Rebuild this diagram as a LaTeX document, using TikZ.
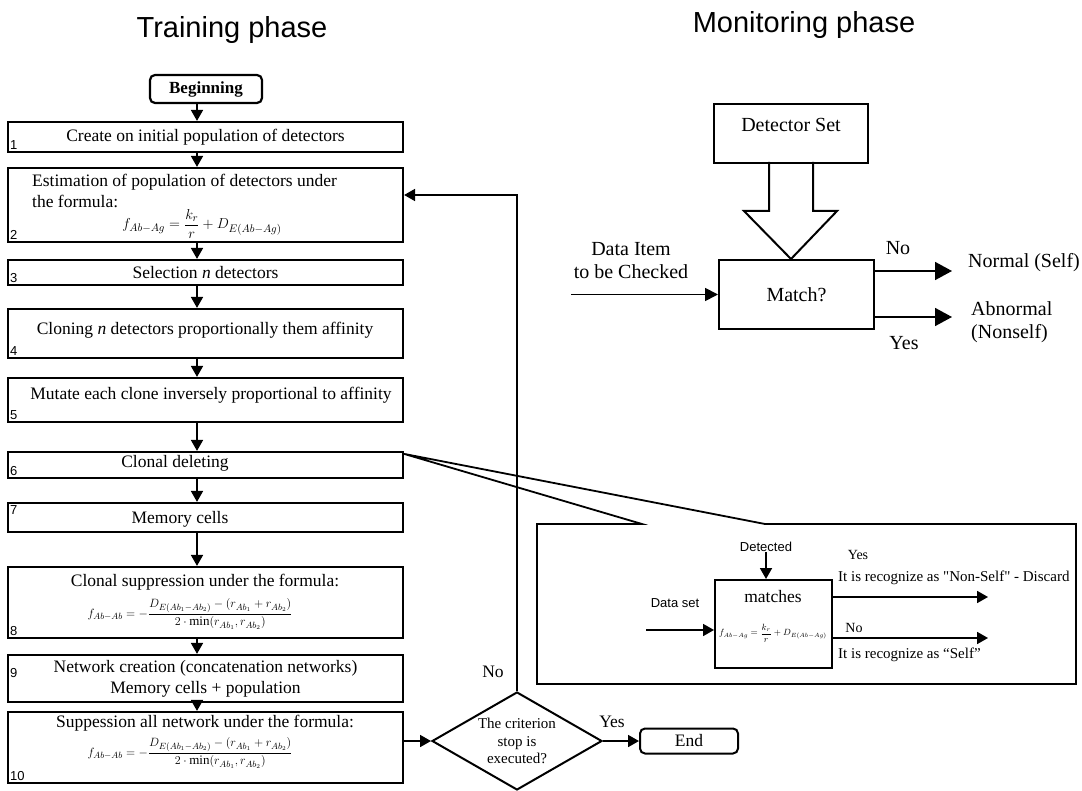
\documentclass[tikz,border=0pt]{standalone}
\usepackage{amsmath,amssymb}
\usepackage{fontspec}
\setmainfont{Liberation Serif}
\setsansfont{Liberation Sans}
\usetikzlibrary{arrows.meta,shapes.geometric,calc}
\newcommand{\dquote}{\XeTeXglyph\XeTeXglyphindex "quotedbl"\relax}

\begin{document}
\begin{tikzpicture}[x=1pt,y=-1pt]
		\tikzstyle{every node}=[inner sep=0pt, font=\fontsize{17.5}{21}\selectfont]
		\tikzstyle{stepbox}=[draw, line width=2.2pt, minimum width=395pt]
		\tikzstyle{num}=[anchor=south west, inner sep=3pt, font=\sffamily\fontsize{13}{13}\selectfont]
		\tikzstyle{flow}=[line width=1.8pt, -{Triangle[length=11pt,width=12pt]}]
		\tikzstyle{bigflow}=[line width=1.8pt, -{Triangle[length=17pt,width=18pt]}]
		\tikzstyle{formula}=[font=\fontsize{13}{15}\selectfont]
		\tikzstyle{mon}=[font=\fontsize{20}{23}\selectfont]
		\useasboundingbox (0,0) rectangle (1082,791);
		
		% Training phase
		\node[anchor=base, font=\sffamily\fontsize{29}{29}\selectfont] (ttl1) at (232,38) {Training phase};
		\node[draw, rounded corners=5pt, line width=2.2pt, minimum width=112pt, minimum height=28pt, font=\bfseries\fontsize{17}{17}\selectfont] (beg) at (206,89) {Beginning};
		
		\node[stepbox, minimum height=30pt] (b1) at (205.5,137) {Create on initial population of detectors};
		\node[stepbox, minimum height=74pt] (b2) at (205.5,205) {};
		\node[anchor=west, align=left] (t2) at (32,191) {Estimation of population of detectors under\\the formula:};
		\node[font=\fontsize{15.5}{17}\selectfont] (f2) at (202,224) {$f_{Ab-Ag}=\dfrac{k_r}{r}+D_{E(Ab-Ag)}$};
		\node[stepbox, minimum height=25pt] (b3) at (205.5,272.5) {Selection \textit{n} detectors};
		\node[stepbox, minimum height=49pt] (b4) at (205.5,333.5) {};
		\node (t4) at (205,330) {Cloning \textit{n} detectors proportionally them affinity};
		\node[stepbox, minimum height=44pt] (b5) at (205.5,400) {};
		\node (t5) at (211,395) {Mutate each clone inversely proportional to affinity};
		\node[stepbox, minimum height=26pt] (b6) at (205.5,465) {};
		\node (t6) at (175,463) {Clonal deleting};
		\node[stepbox, minimum height=29pt] (b7) at (205.5,517.5) {};
		\node (t7) at (180,519) {Memory cells};
		\node[stepbox, minimum height=71pt] (b8) at (205.5,602.5) {};
		\node (t8) at (205,582) {Clonal suppression under the formula:};
		\node[formula] (f8) at (190,614) {$f_{Ab-Ab}=-\dfrac{D_{E(Ab_1-Ab_2)}-(r_{Ab_1}+r_{Ab_2})}{2\cdot\min(r_{Ab_1},r_{Ab_2})}$};
		\node[stepbox, minimum height=47pt, align=center] (b9) at (205.5,678.5) {Network creation (concatenation networks)\\Memory cells + population};
		\node[stepbox, minimum height=71pt] (b10) at (205.5,747.5) {};
		\node (t10) at (205,723) {Suppession all network under the formula:};
		\node[formula] (f10) at (190,753) {$f_{Ab-Ab}=-\dfrac{D_{E(Ab_1-Ab_2)}-(r_{Ab_1}+r_{Ab_2})}{2\cdot\min(r_{Ab_1},r_{Ab_2})}$};
		
		% numbers
		\node[num] at (b1.south west) {1};
		\node[num] at (b2.south west) {2};
		\node[num] at (b3.south west) {3};
		\node[num] at (b4.south west) {4};
		\node[num] at (b5.south west) {5};
		\node[num] at (b6.south west) {6};
		\node[num, anchor=north west] at (b7.north west) {7};
		\node[num] at (b8.south west) {8};
		\node[num, anchor=west] at ([yshift=5pt]b9.west) {9};
		\node[num] at (b10.south west) {10};
		
		%Arrows
		\draw[flow] ([xshift=-9pt]beg.south) -- ([xshift=-8.5pt]b1.north);
		\foreach \a/\b in {b1/b2, b2/b3, b3/b4, b4/b5, b5/b6, b6/b7, b7/b8, b8/b9, b9/b10}
			\draw[flow] ([xshift=-8.5pt]\a.south) -- ([xshift=-8.5pt]\b.north);
		
		% Criterion
		\node[diamond, draw, line width=2pt, aspect=1.73, minimum width=170pt, minimum height=98pt, align=center, font=\fontsize{15}{17.5}\selectfont] (crit) at (517,741) {The criterion\\stop is\\executed?};
		\node[draw, rounded corners=5pt, line width=2pt, minimum width=98pt, minimum height=25pt] (end) at (689,741) {End};
		\draw[flow] (b10.east |- crit.west) -- (crit.west);
		\draw[flow] (crit.east) -- (end.west);
		\draw[flow] (crit.north) |- ([yshift=10pt]b2.east);
		\node (no1) at (493,672) {No};
		\node (yes1) at (612,722) {Yes};
		
		% Callout
		\coordinate (apex) at ([yshift=-3pt]b6.north east);
		\draw[line width=1.8pt, line join=miter] (537,524) -- (642,524) -- (apex) -- (765,524) -- (1076,524) -- (1076,684) -- (537,684) -- cycle;
		\node[draw, line width=2pt, minimum width=117pt, minimum height=88pt] (mt) at (773.5,624) {};
		\node (mtt) at (773,597) {matches};
		\node[font=\fontsize{9}{10}\selectfont] (mtf) at (773,633) {$f_{Ab-Ag}=\dfrac{k_r}{r}+D_{E(Ab-Ag)}$};
		\node[font=\sffamily\fontsize{13}{13}\selectfont] (det) at (766,547) {Detected};
		\draw[flow] (det.south) -- (det.south |- mt.north);
		\node[font=\sffamily\fontsize{13}{13}\selectfont] (dset) at (675,603) {Data set};
		\coordinate (din) at (646,630);
		\draw[flow] (din) -- (din -| mt.west);
		\coordinate (ns) at (988,597);
		\coordinate (sf) at (988,638);
		\draw[flow] (mt.east |- ns) -- (ns);
		\draw[flow] (mt.east |- sf) -- (sf);
		\node[font=\fontsize{14}{14}\selectfont] (yes2) at (858,555) {Yes};
		\node[anchor=west, font=\fontsize{15}{15}\selectfont] (nsl) at (838,578) {It is recognize as \dquote Non-Self\dquote{} - Discard};
		\node[font=\fontsize{14}{14}\selectfont] (no2) at (854,628) {No};
		\node[anchor=west, font=\fontsize{15}{15}\selectfont] (sfl) at (838,655) {It is recognize as “Self”};
		
		% Monitoring phase
		\node[anchor=base, font=\sffamily\fontsize{29}{29}\selectfont] (ttl2) at (804,33) {Monitoring phase};
		\node[draw, line width=2pt, minimum width=154pt, minimum height=59pt] (ds) at (791,133.5) {};
		\node[mon] (dst) at (791,125) {Detector Set};
		\node[draw, line width=2pt, minimum width=155pt, minimum height=69pt, mon] (ms) at (796.5,294.5) {Match?};
		\coordinate (tip) at (ds.south |- ms.north);
		\draw[line width=2pt, line join=miter] ($(tip)+(-22,-97)$) -- ($(tip)+(-22,-48)$) -- ($(tip)+(-47,-48)$) -- (tip) -- ($(tip)+(46,-48)$) -- ($(tip)+(22,-48)$) -- ($(tip)+(22,-97)$);
		\coordinate (item) at (571,294.5);
		\draw[line width=1.8pt, -{Triangle[length=13pt,width=13pt]}] (item) -- (ms.west);
		\node[mon, align=center] (itl) at (631,260.5) {Data Item\\to be Checked};
		\coordinate (nrm) at (952,271);
		\coordinate (abn) at (952,317);
		\draw[bigflow] (ms.east |- nrm) -- (nrm);
		\draw[bigflow] (ms.east |- abn) -- (abn);
		\node[mon] (no3) at (898,248) {No};
		\node[mon] (yes3) at (904,343) {Yes};
		\node[mon, anchor=west] (nrml) at (968,263) {Normal (Self)};
		\node[mon, anchor=west, align=left] (abnl) at (971,322) {Abnormal\\(Nonself)};
	\end{tikzpicture}
\end{document}
